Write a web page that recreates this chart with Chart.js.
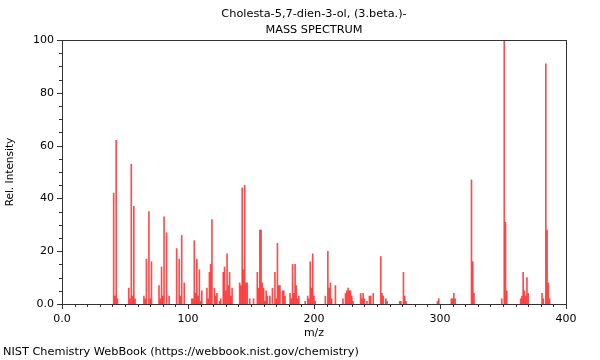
<!DOCTYPE html>
<html lang="en">
<head>
  <meta charset="UTF-8" />
  <title>Cholesta-5,7-dien-3-ol, (3.beta.)- Mass Spectrum</title>
  <script src="https://cdn.jsdelivr.net/npm/chart.js"></script>
  <style>
    body { margin: 0; background: #fff; }
    #wrap { position: relative; width: 600px; height: 360px; }
    #footer {
      position: absolute; left: 3px; top: 345px;
      font: 11.3px "DejaVu Sans", sans-serif; color: #000; white-space: nowrap;
    }
  </style>
</head>
<body>
  <div id="wrap">
    <canvas id="msChart" width="600" height="360"></canvas>
    <div id="footer">NIST Chemistry WebBook (https://webbook.nist.gov/chemistry)</div>
  </div>

  <script>
    // peak list (m/z and relative intensity)
    const mz = [
      41, 42, 43, 44, 53, 54, 55, 56, 57, 58,
      65, 66, 67, 69, 70, 71, 77, 78, 79, 80, 81, 83, 85,
      91, 93, 94, 95, 97, 103, 104, 105, 106, 107, 108, 109, 110, 111,
      115, 116, 117, 118, 119, 121, 122, 123, 125, 126, 128, 129, 130, 131, 132, 133, 134, 135,
      141, 142, 143, 144, 145, 146, 147, 149, 152, 155, 156, 157, 158, 159, 160, 161, 162, 163, 165,
      167, 169, 170, 171, 172, 173, 175, 176, 177, 181, 182, 183, 184, 185, 186, 187, 188,
      193, 195, 196, 197, 198, 199, 200, 201,
      209, 211, 212, 213, 214, 217, 223, 225, 226, 227, 228, 229, 230, 231,
      237, 238, 239, 240, 242, 244, 245, 247, 253, 254, 255, 257, 258,
      268, 269, 271, 272, 273, 298, 299, 309, 310, 311, 312,
      325, 326, 327, 349, 351, 352, 353,
      364, 365, 366, 367, 368, 369, 370, 381, 382, 384, 385, 386, 387
    ];
    const intensity = [
      42, 3, 62, 2, 6, 2, 53, 3, 37, 2,
      3, 2, 17, 35, 2, 16, 7, 2, 14, 3, 33, 27, 3,
      21, 17, 3, 26, 8, 2, 2, 24, 4, 17, 3, 13, 1, 5,
      6, 2, 12, 15, 32, 6, 3, 4, 1, 2, 12, 14, 5, 19, 7, 12, 3, 6,
      8, 7, 44, 13, 45, 8, 8, 2, 2, 12, 6, 28, 28, 8, 6, 1, 5, 3, 3,
      6, 12, 2, 23, 7, 7, 5, 5, 3, 4, 2, 15, 4, 15, 7, 2, 3,
      1, 3, 2, 16, 6, 19, 3, 1,
      3, 20, 6, 8, 2, 7, 2, 4, 5, 6, 5, 5, 3, 1,
      4, 2, 4, 2, 1, 3, 3, 4, 18, 4, 3, 2, 1,
      1, 1, 12, 3, 1, 1, 2, 2, 2, 4, 2,
      47, 16, 4, 2, 100, 31, 5,
      2, 3, 12, 5, 3, 10, 4, 4, 2, 91, 28, 8, 2
    ];
    const xLabelEvery = 100;
    const yLabelEvery = 20;

    const fontFamily = '"DejaVu Sans", sans-serif';
    const frameColor = '#333';

    // box round the plot plus major/minor tick marks
    const frameTicks = {
      id: 'frameTicks',
      afterDraw(chart) {
        const { ctx, chartArea: a, scales } = chart;
        ctx.save();
        ctx.strokeStyle = frameColor;
        ctx.lineWidth = 1;
        ctx.strokeRect(Math.round(a.left) + 0.5, Math.round(a.top) + 0.5,
                       Math.round(a.right - a.left), Math.round(a.bottom - a.top));
        ctx.beginPath();
        scales.x.ticks.forEach(t => {
          const px = Math.round(scales.x.getPixelForValue(t.value)) + 0.5;
          const len = t.value % xLabelEvery === 0 ? 5 : 3;
          ctx.moveTo(px, a.bottom);
          ctx.lineTo(px, a.bottom + len);
        });
        scales.y.ticks.forEach(t => {
          const py = Math.round(scales.y.getPixelForValue(t.value)) + 0.5;
          const len = t.value % yLabelEvery === 0 ? 5 : 3;
          ctx.moveTo(a.left, py);
          ctx.lineTo(a.left - len, py);
        });
        ctx.stroke();
        ctx.restore();
      }
    };

    const ctx = document.getElementById('msChart').getContext('2d');
    new Chart(ctx, {
      type: 'bar',
      data: {
        datasets: [{
          data: mz.map((m, i) => ({ x: m, y: intensity[i] })),
          backgroundColor: 'rgba(255, 30, 30, 0.8)',
          borderWidth: 0,
          barThickness: 1
        }]
      },
      options: {
        responsive: false,
        animation: false,
        layout: { padding: { top: 0, right: 34, bottom: 0, left: 0 } },
        plugins: {
          legend: { display: false },
          tooltip: { enabled: false },
          title: {
            display: true,
            fullSize: false,
            text: ['Cholesta-5,7-dien-3-ol, (3.beta.)-', 'MASS SPECTRUM'],
            color: '#000',
            font: { family: fontFamily, size: 11.3, weight: 'normal', lineHeight: 1.42 },
            padding: { top: 6, bottom: 2 }
          }
        },
        scales: {
          x: {
            type: 'linear',
            offset: false,
            min: 0, max: 400,
            afterFit: s => { s.height = 56; },
            grid: { display: false, drawTicks: false, offset: false },
            border: { display: false },
            ticks: {
              stepSize: 10,
              autoSkip: false,
              maxRotation: 0,
              padding: 9,
              color: '#000',
              font: { family: fontFamily, size: 11 },
              callback: v => v % xLabelEvery === 0 ? (v === 0 ? '0.0' : String(v)) : ''
            },
            title: {
              display: true,
              text: 'm/z',
              color: '#000',
              font: { family: fontFamily, size: 11 },
              padding: { top: 0, bottom: 20 }
            }
          },
          y: {
            min: 0, max: 100,
            afterFit: s => { s.width = 62; },
            grid: { display: false, drawTicks: false },
            border: { display: false },
            ticks: {
              stepSize: 5,
              autoSkip: false,
              padding: 8,
              color: '#000',
              font: { family: fontFamily, size: 11 },
              callback: v => v % yLabelEvery === 0 ? (v === 0 ? '0.0' : String(v)) : ''
            },
            title: {
              display: true,
              text: 'Rel. Intensity',
              color: '#000',
              font: { family: fontFamily, size: 10.5 },
              padding: { top: 4, bottom: 0 }
            }
          }
        }
      },
      plugins: [frameTicks]
    });
  </script>
</body>
</html>
